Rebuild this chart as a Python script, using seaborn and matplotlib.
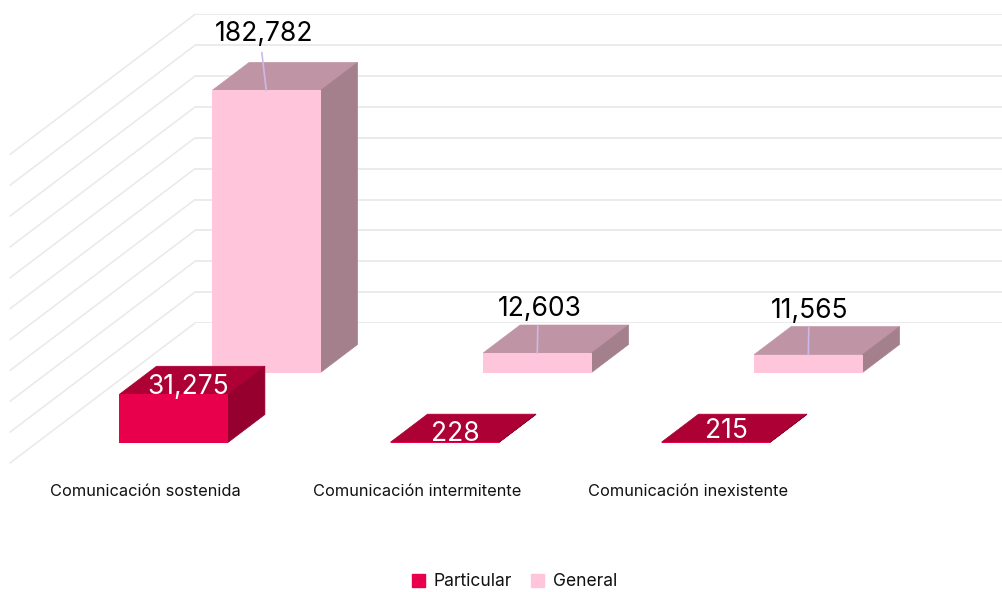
import seaborn as sns
import matplotlib.pyplot as plt
from matplotlib.patches import Polygon, Patch
from matplotlib.transforms import ScaledTranslation

categories = ["Comunicación sostenida", "Comunicación intermitente", "Comunicación inexistente"]
particular = [31275, 228, 215]
general = [182782, 12603, 11565]
grid_ticks = [0, 20000, 40000, 60000, 80000, 100000, 120000, 140000, 160000, 180000, 200000]

W, H = 1002, 592
CAT_PX = 271          # px between two categories
VAL_MAX = 200000
VAL_PX = 308.6        # px for VAL_MAX
DX = 37 / CAT_PX      # bar depth in x units
DY = 28 * VAL_MAX / VAL_PX  # bar depth in value units

plt.rcParams["font.family"] = ["Inter", "DejaVu Sans"]
sns.set_style("white")
plt.rcParams["font.family"] = ["Inter", "DejaVu Sans"]

fig = plt.figure(figsize=(W / 100, H / 100), dpi=100, facecolor="white")


def make_ax(left, baseline, width):
    # axes placed by pixels, y=0 sits on the baseline
    ax = fig.add_axes([left / W, 1 - baseline / H, width / W, VAL_PX / H])
    ax.patch.set_visible(False)
    return ax


def draw_boxes(ax, values, color, top_color, side_color):
    sns.barplot(x=categories, y=values, color=color, saturation=1, width=0.4, ax=ax,
                edgecolor=color, linewidth=0)
    ax.set_xlim(-0.5, 2.5)
    ax.set_ylim(0, VAL_MAX)
    for bar in ax.containers[0]:
        x0, x1 = bar.get_x(), bar.get_x() + bar.get_width()
        h = bar.get_height()
        top = [(x0, h), (x1, h), (x1 + DX, h + DY), (x0 + DX, h + DY)]
        side = [(x1, 0), (x1 + DX, DY), (x1 + DX, h + DY), (x1, h)]
        ax.add_patch(Polygon(top, fc=top_color, ec=top_color, lw=0.5, clip_on=False, zorder=3))
        ax.add_patch(Polygon(side, fc=side_color, ec=side_color, lw=0.5, clip_on=False, zorder=3))
        bar.set_clip_on(False)
        bar.set_zorder(4)
    ax.set_yticks([])
    ax.tick_params(length=0)
    sns.despine(ax=ax, left=True, bottom=True)


# back wall and side wall grid
wall = make_ax(195, 323, W - 195)
wall.set_xlim(0, (W - 195) / CAT_PX)
wall.set_ylim(0, VAL_MAX)
wall.set_yticks(grid_ticks)
wall.set_xticks([])
wall.tick_params(length=0, labelleft=False)
wall.grid(axis="y", color="#e9e9e9", lw=1.3)
sns.despine(ax=wall, left=True, bottom=True, right=True, top=True)
for t in grid_ticks:
    wall.plot([0, -5 * DX], [t, t - 5 * DY], color="#e9e9e9", lw=1.1, clip_on=False)

# general row, at the back
back = make_ax(130.8, 372.5, 3 * CAT_PX)
draw_boxes(back, general, "#ffc6db", "#bf94a4", "#a47f8c")
back.set_xticks([])

# particular row, at the front
front = make_ax(38.2, 442.5, 3 * CAT_PX)
draw_boxes(front, particular, "#e8004c", "#ad0035", "#96002e")
front.set_xticks(range(len(categories)))
front.set_xticklabels(categories, fontsize=11.8, color="#111111")
front.tick_params(axis="x", pad=30)
shift = ScaledTranslation(-28 / 100, 0, fig.dpi_scale_trans)
for lab in front.get_xticklabels():
    lab.set_transform(lab.get_transform() + shift)

# value labels with their leader lines
general_off = [(-2.5, 56), (2.5, 44), (1.5, 44)]
leader_off = [(-4.5, 38), (0.5, 27), (0.5, 27)]
particular_off = [(14, 7), (10.5, 8), (10.5, 11)]
for bar, v, off, lead in zip(back.containers[0], general, general_off, leader_off):
    xy = (bar.get_x() + bar.get_width() / 2, v)
    back.annotate("", xy=xy, xytext=lead, textcoords="offset pixels",
                  arrowprops=dict(arrowstyle="-", color="#cdb9e8", lw=1.2, shrinkA=0, shrinkB=0),
                  zorder=5, annotation_clip=False)
    back.annotate(f"{v:,}", xy=xy, xytext=off, textcoords="offset pixels", ha="center", va="center",
                  fontsize=19, color="black", zorder=6, annotation_clip=False)
for bar, v, off in zip(front.containers[0], particular, particular_off):
    xy = (bar.get_x() + bar.get_width() / 2, v)
    front.annotate(f"{v:,}", xy=xy, xytext=off, textcoords="offset pixels", ha="center", va="center",
                   fontsize=19, color="white", zorder=6, annotation_clip=False)

handles = [Patch(color="#e8004c", label="Particular"), Patch(color="#ffc6db", label="General")]
fig.legend(handles=handles, loc="center", bbox_to_anchor=(514.5 / W, 1 - 582 / H), ncol=2, frameon=False,
           fontsize=12.6, handlelength=0.75, handleheight=0.75, handletextpad=0.5, columnspacing=1.1,
           labelcolor="#111111", borderpad=0)

fig.savefig("out.png", dpi=100)
